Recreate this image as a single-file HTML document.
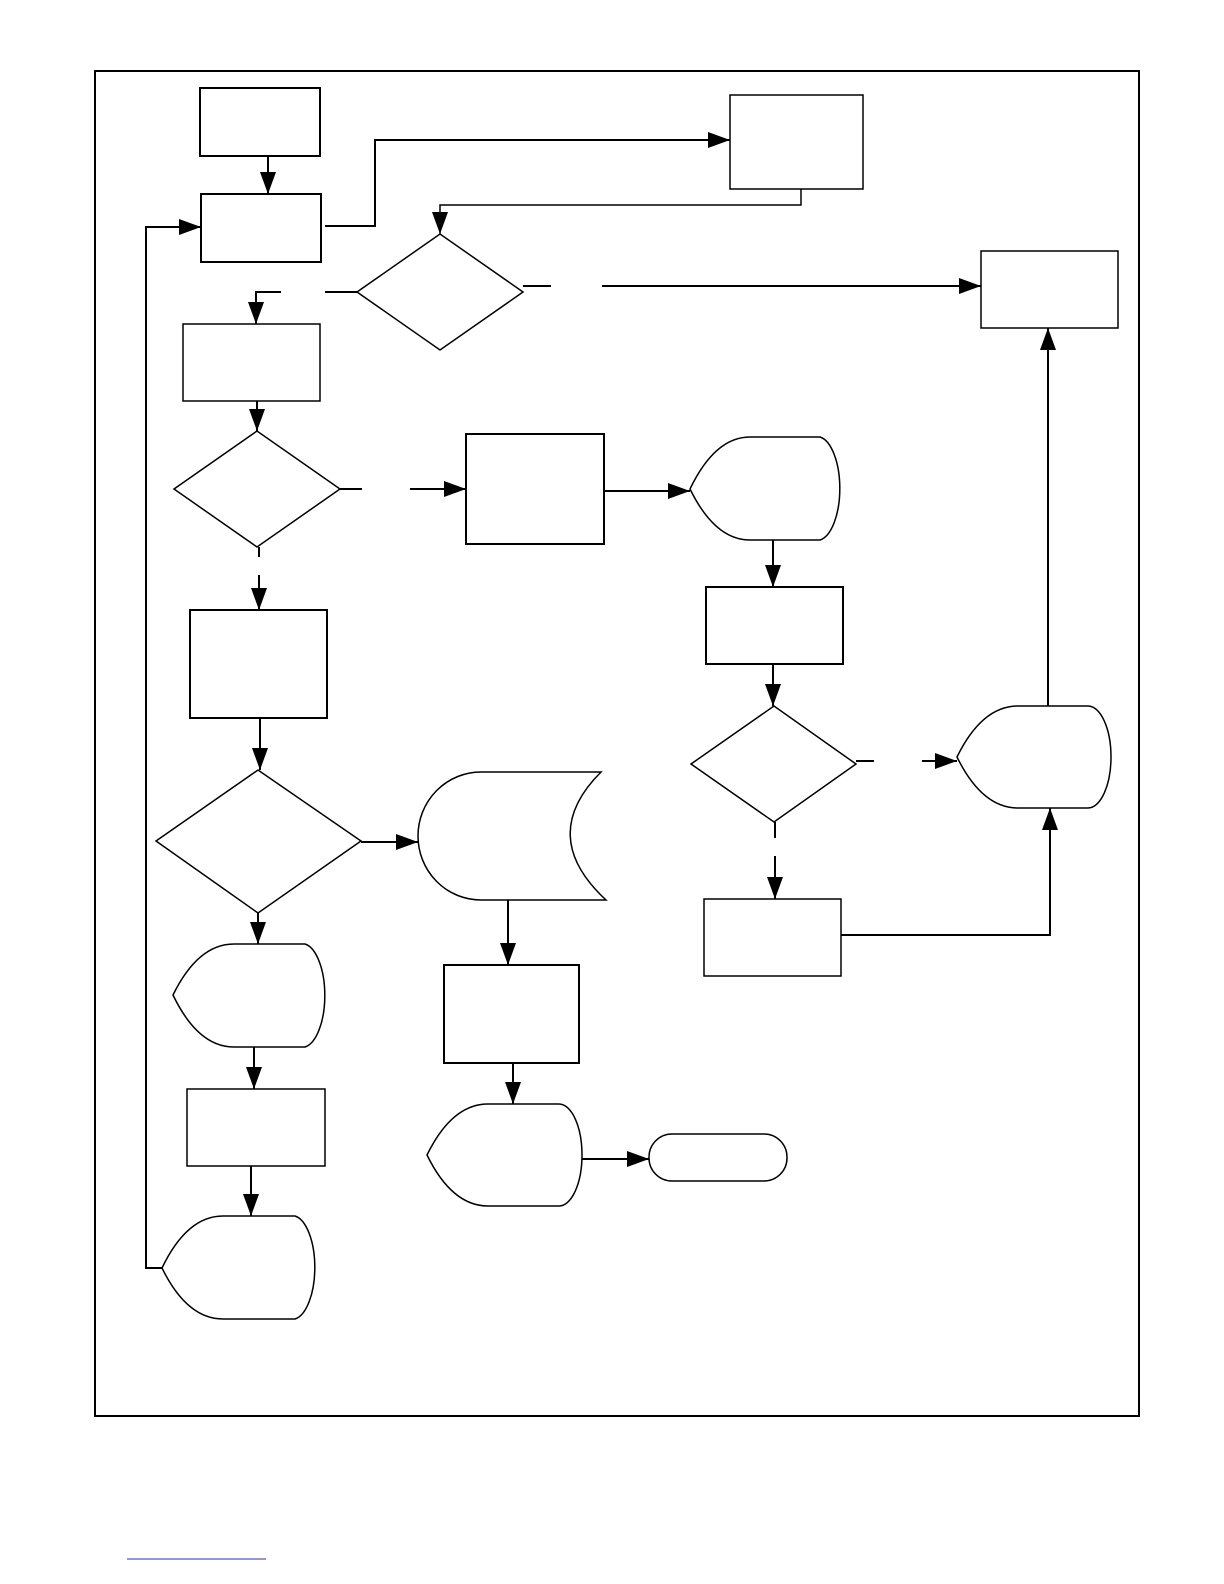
<!DOCTYPE html>
<html><head><meta charset="utf-8"><style>html,body{margin:0;padding:0;background:#fff;overflow:hidden;width:1224px;height:1584px}svg{display:block}</style></head>
<body>
<svg width="1224" height="1584" viewBox="0 0 1224 1584" xmlns="http://www.w3.org/2000/svg">
<defs>
<marker id="a" markerWidth="22" markerHeight="16" refX="22" refY="8" orient="auto" markerUnits="userSpaceOnUse">
<path d="M0,0 L22,8 L0,16 Z" fill="#000"/>
</marker>
</defs>
<g fill="none" stroke="#000" stroke-width="2">
<rect x="95" y="71" width="1044" height="1345"/>
<rect x="200" y="88" width="120" height="68"/>
<rect x="201" y="194" width="120" height="68"/>
<rect x="730" y="95" width="133" height="94" stroke-width="1.5"/>
<polygon points="357,292 440,234 523,292 440,350" stroke-width="1.5"/>
<rect x="981" y="251" width="137" height="77" stroke-width="1.5"/>
<rect x="183" y="324" width="137" height="77" stroke-width="1.5"/>
<polygon points="174,489 257,431 340,489 257,547" stroke-width="1.5"/>
<rect x="466" y="434" width="138" height="110"/>
<rect x="706" y="587" width="137" height="77"/>
<polygon points="691,764 774,706 856,764 774,822" stroke-width="1.5"/>
<rect x="190" y="610" width="137" height="108"/>
<polygon points="156,841 258,770 361,841 258,913" stroke-width="1.5"/>
<rect x="704" y="899" width="137" height="77" stroke-width="1.5"/>
<rect x="444" y="965" width="135" height="98"/>
<rect x="187" y="1089" width="138" height="77" stroke-width="1.5"/>
<rect x="649" y="1134" width="138" height="47" rx="23" stroke-width="1.5"/>
<path d="M481,772 L601,772 Q537,836 606,900 L481,900 A63,64 0 0 1 481,772 Z" stroke-width="1.5"/>
<path d="M690,489 Q715,437 750,437 L820,437 A23,52 0 0 1 820,540 L750,540 Q715,540 690,489 Z" stroke-width="1.5"/>
<path d="M957,757 Q982,706 1018,706 L1088,706 A23,51 0 0 1 1088,808 L1018,808 Q982,808 957,757 Z" stroke-width="1.5"/>
<path d="M173,995 Q198,944 234,944 L305,944 A23,52 0 0 1 305,1047 L234,1047 Q198,1047 173,995 Z" stroke-width="1.5"/>
<path d="M427,1155 Q452,1104 488,1104 L559,1104 A23,51 0 0 1 559,1206 L488,1206 Q452,1206 427,1155 Z" stroke-width="1.5"/>
<path d="M162,1268 Q187,1216 223,1216 L295,1216 A23,52 0 0 1 295,1319 L223,1319 Q187,1319 162,1268 Z" stroke-width="1.5"/>
</g>
<g fill="none" stroke="#000" stroke-width="2">
<path d="M268,156 L268,194" marker-end="url(#a)"/>
<path d="M325,226 L375,226 L375,140 L730,140" marker-end="url(#a)"/>
<path d="M801,189 L801,205 L440,205 L440,234" stroke-width="1.5" marker-end="url(#a)"/>
<path d="M357,292 L325,292"/>
<path d="M281,292 L256,292 L256,324" marker-end="url(#a)"/>
<path d="M523,286 L551,286"/>
<path d="M602,286 L981,286" marker-end="url(#a)"/>
<path d="M257,401 L257,431" marker-end="url(#a)"/>
<path d="M340,489 L362,489"/>
<path d="M410,489 L466,489" marker-end="url(#a)"/>
<path d="M604,491 L690,491" marker-end="url(#a)"/>
<path d="M259,547 L259,557"/>
<path d="M259,575 L259,610" marker-end="url(#a)"/>
<path d="M773,540 L773,587" marker-end="url(#a)"/>
<path d="M260,718 L260,770" marker-end="url(#a)"/>
<path d="M773,664 L773,706" marker-end="url(#a)"/>
<path d="M856,761 L874,761"/>
<path d="M922,761 L957,761" marker-end="url(#a)"/>
<path d="M1048,706 L1048,328" marker-end="url(#a)"/>
<path d="M775,822 L775,838"/>
<path d="M775,856 L775,899" marker-end="url(#a)"/>
<path d="M841,935 L1050,935 L1050,808" marker-end="url(#a)"/>
<path d="M361,842 L418,842" marker-end="url(#a)"/>
<path d="M508,900 L508,965" marker-end="url(#a)"/>
<path d="M258,913 L258,944" marker-end="url(#a)"/>
<path d="M513,1063 L513,1104" marker-end="url(#a)"/>
<path d="M254,1047 L254,1089" marker-end="url(#a)"/>
<path d="M582,1159 L649,1159" marker-end="url(#a)"/>
<path d="M251,1166 L251,1216" marker-end="url(#a)"/>
<path d="M162,1268 L146,1268 L146,227 L201,227" marker-end="url(#a)"/>
</g>
<line x1="127" y1="1559" x2="266" y2="1559" stroke="#2233aa" stroke-width="1"/>
</svg>
</body></html>
